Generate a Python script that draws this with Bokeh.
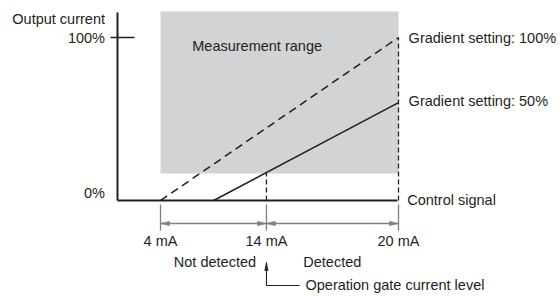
import numpy as np
from bokeh.plotting import figure
from bokeh.models import Range1d
from bokeh.embed import file_html
from bokeh.resources import INLINE
from bokeh.core.properties import value

# ---- data (schematic diagram units: x = signal position, y = output %) ----
signal_labels = ["4 mA", "14 mA", "20 mA"]
signal_pos = [15.3, 53.0, 100.0]
output_labels = ["100%", "0%"]
output_levels = [100, 0]
grad100_x = [15.3, 100.0]
grad100_y = [0.0, 100.0]
grad50_x = [34.2, 100.0]
grad50_y = [0.0, 60.0]
range_x = [15.3, 100.0]
range_y = [16.5, 116.0]
axis_top = 115.3
curve_labels = ["Gradient setting: 100%", "Gradient setting: 50%"]
zone_labels = ["Not detected", "Detected"]

DARK = "#231f20"
GRAY = "#808080"
FONT = value("Liberation Sans")
FS = value("14.5px")

W, H = 560, 297
x0, x1 = -41.64, 157.65
y0, y1 = -59.5, 122.7
PXX = W / (x1 - x0)
PXY = H / (y1 - y0)
DY = 6 / PXY  # text baseline correction

p = figure(width=W, height=H, output_backend="svg", toolbar_location=None,
           x_range=Range1d(x0, x1), y_range=Range1d(y0, y1),
           x_axis_type=None, y_axis_type=None, min_border=0, title=None)
p.outline_line_color = None
p.grid.visible = False
p.background_fill_color = "white"

# measurement range
p.quad(left=[range_x[0]], right=[range_x[1]], bottom=[range_y[0]], top=[range_y[1]],
       fill_color="#d1d3d4", line_color=None)

# axes
p.line([0, 0], [0, axis_top], line_color=DARK, line_width=2)
p.line([0, signal_pos[-1] - 0.4], [0, 0], line_color=DARK, line_width=2)
p.line([-7 / PXX, 17 / PXX], [output_levels[0]] * 2, line_color=DARK, line_width=1.3)

# curves
p.line(grad100_x, grad100_y, line_color=DARK, line_width=1.5, line_dash="8 5")
p.line(grad50_x, grad50_y, line_color=DARK, line_width=1.5)

# vertical dashed guides
y_at_14 = float(np.interp(signal_pos[1], grad50_x, grad50_y))
p.line([signal_pos[1]] * 2, [0, y_at_14], line_color=DARK, line_width=1.3, line_dash="5 3")
p.line([signal_pos[2]] * 2, [0, grad100_y[-1]], line_color=DARK, line_width=1.3, line_dash="5 3")

# dimension ticks and lines
t_top, t_bot = -4 / PXY, -30 / PXY
dim_y = -23 / PXY
p.segment(x0=signal_pos, y0=[t_top] * 3, x1=signal_pos, y1=[t_bot] * 3,
          line_color=GRAY, line_width=1.3)
p.segment(x0=signal_pos[:-1], y0=[dim_y] * 2, x1=signal_pos[1:], y1=[dim_y] * 2,
          line_color=GRAY, line_width=1.3)

L, HW = 9 / PXX, 2.2 / PXY
xs, ys = [], []
for a, b in zip(signal_pos[:-1], signal_pos[1:]):
    xs.append([a, a + L, a + L]); ys.append([dim_y, dim_y + HW, dim_y - HW])
    xs.append([b, b - L, b - L]); ys.append([dim_y, dim_y + HW, dim_y - HW])
p.patches(xs, ys, fill_color=GRAY, line_color=GRAY, line_width=0.5)

# operation gate arrow
tip_y = -62 / PXY
elbow_y = -85 / PXY
p.line([signal_pos[1], signal_pos[1], 64.8], [tip_y, elbow_y, elbow_y],
       line_color=DARK, line_width=1.1)
p.patch([signal_pos[1], signal_pos[1] - 1.8 / PXX, signal_pos[1] + 1.8 / PXX],
        [tip_y, tip_y - 8 / PXY, tip_y - 8 / PXY], fill_color=DARK, line_color=DARK, line_width=0.5)

def txt(x, y, s, align):
    p.text(x=x, y=[v + DY for v in y], text=s, text_font=FONT, text_font_size=FS,
           text_color=DARK, text_align=align, text_baseline="alphabetic")

# y labels
txt([-4.45], [107.4], ["Output current"], "right")
txt([-4.45] * 2, [96.3, 1.2], output_labels, "right")

# in-plot labels
txt([26.6], [90.8], ["Measurement range"], "left")
txt([103.6] * 2, [96.3, 57.1], curve_labels, "left")
txt([103.1], [-3.1], ["Control signal"], "left")

# x labels
txt(signal_pos, [-28.8] * 3, signal_labels, "center")
txt([49.3], [-41.1], [zone_labels[0]], "right")
txt([66.1], [-41.1], [zone_labels[1]], "left")
txt([66.9], [-55.7], ["Operation gate current level"], "left")

open("out.html", "w").write(file_html(p, INLINE))
